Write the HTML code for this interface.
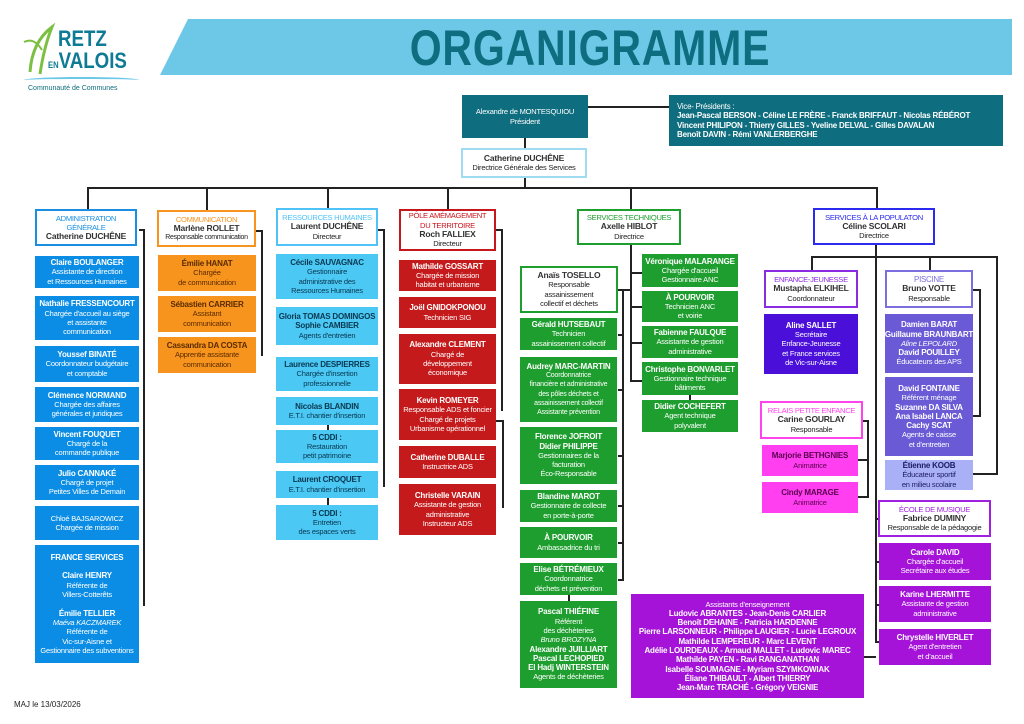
<!DOCTYPE html>
<html><head><meta charset="utf-8"><style>
*{margin:0;padding:0;box-sizing:border-box}
body{width:1024px;height:724px;background:#fff;position:relative;overflow:hidden;font-family:"Liberation Sans",sans-serif;}
.b{position:absolute;display:flex;flex-direction:column;justify-content:center;align-items:center;text-align:center;font-size:7.5px;line-height:9.3px;color:#fff;white-space:nowrap;overflow:hidden;letter-spacing:-0.2px}
.b b{font-weight:bold;font-size:8px}
.h{background:#fff;color:#222;border:2px solid}
.h i{font-style:normal;font-size:8.5px;font-weight:bold;color:#333}
.h span{font-size:7.6px !important;letter-spacing:-0.3px}
.l{position:absolute;background:#222}
.blue{background:#0b8de5}.or{background:#f7941d;color:#5a2a00}.lb{background:#4cc8f5;color:#08384f}.red{background:#c51a1b}.gr{background:#1e9e2e}
.ej{background:#4a0fd9}.pi{background:#6a5ad6}.pil{background:#aab0f5;color:#1b1b66}.pk{background:#ff3ff0;color:#5a004f}.vi{background:#a513d9}
</style></head><body>
<!-- logo -->
<div style="position:absolute;left:20px;top:22px;width:120px;height:80px">
<svg width="40" height="60" style="position:absolute;left:2px;top:0"><path d="M8 50 Q10 20 30 5 Q22 25 18 52" fill="none" stroke="#7cc043" stroke-width="3"/><path d="M2 20 Q12 15 20 28" fill="none" stroke="#7cc043" stroke-width="2"/></svg>
<div style="position:absolute;left:38px;top:4px;font-size:22px;font-weight:bold;color:#0e7a93;transform:scaleX(.85);transform-origin:left">RETZ</div>
<div style="position:absolute;left:28px;top:26px;font-size:22px;font-weight:bold;color:#0e7a93;transform:scaleX(.85);transform-origin:left"><span style="font-size:9px">EN</span>VALOIS</div>
<div style="position:absolute;left:4px;top:55px;width:115px;height:6px;border-top:2px solid #6dc8e8;border-radius:50%"></div>
<div style="position:absolute;left:8px;top:63px;font-size:7px;color:#0e6d7e">Communauté de Communes</div>
</div>
<svg style="position:absolute;left:0;top:0" width="1024" height="80"><polygon points="188,19 1012,19 1012,75 160,75" fill="#6dc8e8"/></svg>
<div style="position:absolute;left:300px;top:20px;width:580px;text-align:center;font-size:50px;font-weight:bold;color:#0e6d7e;transform:scaleX(.82);letter-spacing:1px;line-height:56px">ORGANIGRAMME</div>

<!-- top -->
<div class="l" style="left:588px;top:106px;width:81px;height:2px"></div>
<div class="l" style="left:524px;top:138px;width:2px;height:10px"></div>
<div class="l" style="left:524px;top:178px;width:2px;height:10px"></div>
<div class="b" style="left:462px;top:95px;width:126px;height:43px;background:#0e6d7e">Alexandre de MONTESQUIOU<br>Président</div>
<div class="b" style="left:669px;top:95px;width:334px;height:51px;background:#0e6d7e;align-items:flex-start;text-align:left;padding-left:8px;font-size:7.8px">Vice- Présidents :<br><b>Jean-Pascal BERSON - Céline LE FRÈRE - Franck BRIFFAUT - Nicolas RÉBÉROT<br>Vincent PHILIPON - Thierry GILLES - Yveline DELVAL - Gilles DAVALAN<br>Benoît DAVIN - Rémi VANLERBERGHE</b></div>
<div class="b h" style="left:461px;top:148px;width:126px;height:30px;border-color:#9fdcf2"><i>Catherine DUCHÊNE</i>Directrice Générale des Services</div>
<div class="l" style="left:87px;top:187px;width:791px;height:2px"></div>
<div class="l" style="left:87px;top:187px;width:2px;height:22px"></div>
<div class="l" style="left:206px;top:187px;width:2px;height:23px"></div>
<div class="l" style="left:327px;top:187px;width:2px;height:21px"></div>
<div class="l" style="left:447px;top:187px;width:2px;height:22px"></div>
<div class="l" style="left:630px;top:187px;width:2px;height:22px"></div>
<div class="l" style="left:876px;top:187px;width:2px;height:21px"></div>

<!-- ADMIN -->
<div class="l" style="left:139px;top:229px;width:6px;height:2px"></div>
<div class="l" style="left:143px;top:229px;width:2px;height:377px"></div>
<div class="b h" style="left:35px;top:209px;width:102px;height:37px;border-color:#1a8fe0"><span style="color:#1a8fe0">ADMINISTRATION<br>GÉNÉRALE</span><i>Catherine DUCHÊNE</i></div>
<div class="b blue" style="left:35px;top:256px;width:104px;height:32px"><b>Claire BOULANGER</b>Assistante de direction<br>et Ressources Humaines</div>
<div class="b blue" style="left:35px;top:296px;width:104px;height:44px"><b>Nathalie FRESSENCOURT</b>Chargée d'accueil au siège<br>et assistante<br>communication</div>
<div class="b blue" style="left:35px;top:346px;width:104px;height:36px"><b>Youssef BINATÉ</b>Coordonnateur budgétaire<br>et comptable</div>
<div class="b blue" style="left:35px;top:387px;width:104px;height:35px"><b>Clémence NORMAND</b>Chargée des affaires<br>générales et juridiques</div>
<div class="b blue" style="left:35px;top:427px;width:104px;height:33px"><b>Vincent FOUQUET</b>Chargé de la<br>commande publique</div>
<div class="b blue" style="left:35px;top:465px;width:104px;height:35px"><b>Julio CANNAKÉ</b>Chargé de projet<br>Petites Villes de Demain</div>
<div class="b blue" style="left:35px;top:506px;width:104px;height:34px">Chloé BAJSAROWICZ<br>Chargée de mission</div>
<div class="b blue" style="left:35px;top:545px;width:104px;height:118px"><b>FRANCE SERVICES</b><br><b>Claire HENRY</b>Référente de<br>Villers-Cotterêts<br><br><b>Émilie TELLIER</b><em>Maéva KACZMAREK</em>Référente de<br>Vic-sur-Aisne et<br>Gestionnaire des subventions</div>

<!-- COMM -->
<div class="l" style="left:256px;top:230px;width:6px;height:2px"></div>
<div class="l" style="left:261px;top:230px;width:2px;height:126px"></div>
<div class="b h" style="left:157px;top:210px;width:99px;height:37px;border-color:#f7941d"><span style="color:#f7941d">COMMUNICATION</span><i>Marlène ROLLET</i><span style="font-size:7px !important;color:#222">Responsable communication</span></div>
<div class="b or" style="left:158px;top:255px;width:98px;height:36px"><b>Émilie HANAT</b>Chargée<br>de communication</div>
<div class="b or" style="left:158px;top:296px;width:98px;height:36px"><b>Sébastien CARRIER</b>Assistant<br>communication</div>
<div class="b or" style="left:158px;top:337px;width:98px;height:36px"><b>Cassandra DA COSTA</b>Apprentie assistante<br>communication</div>

<!-- RH -->
<div class="l" style="left:378px;top:229px;width:6px;height:2px"></div>
<div class="l" style="left:383px;top:229px;width:2px;height:258px"></div>
<div class="b h" style="left:276px;top:208px;width:102px;height:38px;border-color:#4fc3f7"><span style="color:#4fc3f7">RESSOURCES HUMAINES</span><i>Laurent DUCHÊNE</i>Directeur</div>
<div class="b lb" style="left:276px;top:254px;width:102px;height:45px"><b>Cécile SAUVAGNAC</b>Gestionnaire<br>administrative des<br>Ressources Humaines</div>
<div class="b lb" style="left:276px;top:307px;width:102px;height:38px"><b>Gloria TOMAS DOMINGOS</b><b>Sophie CAMBIER</b>Agents d'entretien</div>
<div class="b lb" style="left:276px;top:357px;width:102px;height:34px"><b>Laurence DESPIERRES</b>Chargée d'insertion<br>professionnelle</div>
<div class="b lb" style="left:276px;top:397px;width:102px;height:28px"><b>Nicolas BLANDIN</b>E.T.I. chantier d'insertion</div>
<div class="l" style="left:327px;top:425px;width:2px;height:5px"></div>
<div class="b lb" style="left:276px;top:430px;width:102px;height:33px"><b>5 CDDI :</b>Restauration<br>petit patrimoine</div>
<div class="b lb" style="left:276px;top:471px;width:102px;height:27px"><b>Laurent CROQUET</b>E.T.I. chantier d'insertion</div>
<div class="l" style="left:327px;top:498px;width:2px;height:7px"></div>
<div class="b lb" style="left:276px;top:505px;width:102px;height:35px"><b>5 CDDI :</b>Entretien<br>des espaces verts</div>

<!-- POLE -->
<div class="l" style="left:496px;top:229px;width:6px;height:2px"></div>
<div class="l" style="left:501px;top:229px;width:2px;height:182px"></div>
<div class="l" style="left:496px;top:420px;width:8px;height:2px"></div>
<div class="l" style="left:502px;top:420px;width:2px;height:88px"></div>
<div class="b h" style="left:399px;top:209px;width:97px;height:42px;border-color:#c8161d"><span style="color:#c8161d">PÔLE AMÉMAGEMENT<br>DU TERRITOIRE</span><i>Roch FALLIEX</i>Directeur</div>
<div class="b red" style="left:399px;top:260px;width:97px;height:31px"><b>Mathilde GOSSART</b>Chargée de mission<br>habitat et urbanisme</div>
<div class="b red" style="left:399px;top:297px;width:97px;height:31px"><b>Joël GNIDOKPONOU</b>Technicien SIG</div>
<div class="b red" style="left:399px;top:334px;width:97px;height:50px"><b>Alexandre CLEMENT</b>Chargé de<br>développement<br>économique</div>
<div class="b red" style="left:399px;top:389px;width:97px;height:51px"><b>Kevin ROMEYER</b>Responsable ADS et foncier<br>Chargé de projets<br>Urbanisme opérationnel</div>
<div class="b red" style="left:399px;top:446px;width:97px;height:32px"><b>Catherine DUBALLE</b>Instructrice ADS</div>
<div class="b red" style="left:399px;top:484px;width:97px;height:51px"><b>Christelle VARAIN</b>Assistante de gestion<br>administrative<br>Instructeur ADS</div>

<!-- ST -->
<div class="l" style="left:630px;top:245px;width:2px;height:136px"></div>
<div class="l" style="left:630px;top:272px;width:12px;height:2px"></div>
<div class="l" style="left:630px;top:306px;width:12px;height:2px"></div>
<div class="l" style="left:630px;top:342px;width:12px;height:2px"></div>
<div class="l" style="left:630px;top:380px;width:12px;height:2px"></div>
<div class="l" style="left:618px;top:289px;width:14px;height:2px"></div>
<div class="l" style="left:622px;top:289px;width:2px;height:292px"></div>
<div class="l" style="left:618px;top:334px;width:5px;height:2px"></div>
<div class="l" style="left:618px;top:389px;width:5px;height:2px"></div>
<div class="l" style="left:618px;top:455px;width:5px;height:2px"></div>
<div class="l" style="left:618px;top:505px;width:5px;height:2px"></div>
<div class="l" style="left:618px;top:542px;width:5px;height:2px"></div>
<div class="l" style="left:618px;top:579px;width:5px;height:2px"></div>
<div class="l" style="left:568px;top:595px;width:2px;height:6px"></div>
<div class="l" style="left:689px;top:395px;width:2px;height:5px"></div>
<div class="b h" style="left:577px;top:209px;width:104px;height:36px;border-color:#1e9e2e"><span style="color:#1e9e2e">SERVICES TECHNIQUES</span><i>Axelle HIBLOT</i>Directrice</div>
<div class="b h" style="left:520px;top:266px;width:98px;height:47px;border-color:#1e9e2e"><i>Anaïs TOSELLO</i>Responsable<br>assainissement<br>collectif et déchets</div>
<div class="b gr" style="left:520px;top:318px;width:97px;height:32px"><b>Gérald HUTSEBAUT</b>Technicien<br>assainissement collectif</div>
<div class="b gr" style="left:520px;top:357px;width:97px;height:65px;font-size:7px"><b>Audrey MARC-MARTIN</b>Coordonnatrice<br>financière et administrative<br>des pôles déchets et<br>assainissement collectif<br>Assistante prévention</div>
<div class="b gr" style="left:520px;top:427px;width:97px;height:57px"><b>Florence JOFROIT</b><b>Didier PHILIPPE</b>Gestionnaires de la<br>facturation<br>Éco-Responsable</div>
<div class="b gr" style="left:520px;top:490px;width:97px;height:32px"><b>Blandine MAROT</b>Gestionnaire de collecte<br>en porte-à-porte</div>
<div class="b gr" style="left:520px;top:527px;width:97px;height:31px"><b>À POURVOIR</b>Ambassadrice du tri</div>
<div class="b gr" style="left:520px;top:563px;width:97px;height:32px"><b>Elise BÉTRÉMIEUX</b>Coordonnatrice<br>déchets et prévention</div>
<div class="b gr" style="left:520px;top:601px;width:97px;height:87px"><b>Pascal THIÉFINE</b>Référent<br>des déchèteries<br><em>Bruno BROZYNA</em><b>Alexandre JUILLIART</b><b>Pascal LECHOPIED</b><b>El Hadj WINTERSTEIN</b>Agents de déchèteries</div>
<div class="b gr" style="left:642px;top:254px;width:96px;height:33px"><b>Véronique MALARANGE</b>Chargée d'accueil<br>Gestionnaire ANC</div>
<div class="b gr" style="left:642px;top:291px;width:96px;height:31px"><b>À POURVOIR</b>Technicien ANC<br>et voirie</div>
<div class="b gr" style="left:642px;top:326px;width:96px;height:32px"><b>Fabienne FAULQUE</b>Assistante de gestion<br>administrative</div>
<div class="b gr" style="left:642px;top:362px;width:96px;height:33px"><b>Christophe BONVARLET</b>Gestionnaire technique<br>bâtiments</div>
<div class="b gr" style="left:642px;top:400px;width:96px;height:32px"><b>Didier COCHEFERT</b>Agent technique<br>polyvalent</div>

<!-- SP -->
<div class="l" style="left:875px;top:245px;width:2px;height:398px"></div>
<div class="l" style="left:811px;top:256px;width:187px;height:2px"></div>
<div class="l" style="left:811px;top:256px;width:2px;height:14px"></div>
<div class="l" style="left:929px;top:256px;width:2px;height:14px"></div>
<div class="l" style="left:996px;top:256px;width:2px;height:219px"></div>
<div class="l" style="left:973px;top:473px;width:25px;height:2px"></div>
<div class="l" style="left:973px;top:289px;width:8px;height:2px"></div>
<div class="l" style="left:979px;top:289px;width:2px;height:128px"></div>
<div class="l" style="left:973px;top:415px;width:8px;height:2px"></div>
<div class="l" style="left:863px;top:420px;width:6px;height:2px"></div>
<div class="l" style="left:867px;top:420px;width:2px;height:78px"></div>
<div class="l" style="left:858px;top:459px;width:10px;height:2px"></div>
<div class="l" style="left:858px;top:496px;width:10px;height:2px"></div>
<div class="l" style="left:875px;top:518px;width:4px;height:2px"></div>
<div class="l" style="left:875px;top:561px;width:4px;height:2px"></div>
<div class="l" style="left:875px;top:604px;width:4px;height:2px"></div>
<div class="l" style="left:875px;top:641px;width:4px;height:2px"></div>
<div class="l" style="left:864px;top:656px;width:12px;height:2px"></div>
<div class="b h" style="left:813px;top:208px;width:122px;height:37px;border-color:#2b2bf0"><span style="color:#2b2bf0">SERVICES À LA POPULATON</span><i>Céline SCOLARI</i>Directrice</div>
<div class="b h" style="left:764px;top:270px;width:94px;height:38px;border-color:#8b2be2"><span style="color:#8b2be2">ENFANCE-JEUNESSE</span><i>Mustapha ELKIHEL</i>Coordonnateur</div>
<div class="b ej" style="left:764px;top:314px;width:94px;height:60px"><b>Aline SALLET</b>Secrétaire<br>Enfance-Jeunesse<br>et France services<br>de Vic-sur-Aisne</div>
<div class="b h" style="left:885px;top:270px;width:88px;height:38px;border-color:#7b6fe0"><span style="color:#7b6fe0;font-size:8px !important">PISCINE</span><i>Bruno VOTTE</i>Responsable</div>
<div class="b pi" style="left:885px;top:314px;width:88px;height:59px"><b>Damien BARAT</b><b>Guillaume BRAUNBART</b><em>Aline LEPOLARD</em><b>David POUILLEY</b>Éducateurs des APS</div>
<div class="b pi" style="left:885px;top:377px;width:88px;height:79px"><b>David FONTAINE</b>Référent ménage<br><b>Suzanne DA SILVA</b><b>Ana Isabel LANCA</b><b>Cachy SCAT</b>Agents de caisse<br>et d'entretien</div>
<div class="b pil" style="left:885px;top:460px;width:88px;height:30px"><b>Étienne KOOB</b>Éducateur sportif<br>en milieu scolaire</div>
<div class="b h" style="left:760px;top:401px;width:103px;height:38px;border-color:#ff44ee"><span style="color:#ff44ee">RELAIS PETITE ENFANCE</span><i>Carine GOURLAY</i>Responsable</div>
<div class="b pk" style="left:762px;top:445px;width:96px;height:31px"><b>Marjorie BETHGNIES</b>Animatrice</div>
<div class="b pk" style="left:762px;top:482px;width:96px;height:31px"><b>Cindy MARAGE</b>Animatrice</div>
<div class="b h" style="left:878px;top:500px;width:113px;height:37px;border-color:#a020e0"><span style="color:#a020e0">ÉCOLE DE MUSIQUE</span><i>Fabrice DUMINY</i>Responsable de la pédagogie</div>
<div class="b vi" style="left:879px;top:543px;width:112px;height:37px"><b>Carole DAVID</b>Chargée d'accueil<br>Secrétaire aux études</div>
<div class="b vi" style="left:879px;top:586px;width:112px;height:36px"><b>Karine LHERMITTE</b>Assistante de gestion<br>administrative</div>
<div class="b vi" style="left:879px;top:629px;width:112px;height:36px"><b>Chrystelle HIVERLET</b>Agent d'entretien<br>et d'accueil</div>
<div class="b vi" style="left:631px;top:594px;width:233px;height:104px">Assistants d'enseignement<br><b>Ludovic ABRANTES - Jean-Denis CARLIER</b><b>Benoît DEHAINE - Patricia HARDENNE</b><b>Pierre LARSONNEUR - Philippe LAUGIER - Lucie LEGROUX</b><b>Mathilde LEMPEREUR - Marc LEVENT</b><b>Adélie LOURDEAUX - Arnaud MALLET - Ludovic MAREC</b><b>Mathilde PAYEN - Ravi RANGANATHAN</b><b>Isabelle SOUMAGNE - Myriam SZYMKOWIAK</b><b>Éliane THIBAULT - Albert THIERRY</b><b>Jean-Marc TRACHÉ - Grégory VEIGNIE</b></div>

<div style="position:absolute;left:14px;top:700px;font-size:8px;color:#222">MAJ le 13/03/2026</div>
</body></html>
